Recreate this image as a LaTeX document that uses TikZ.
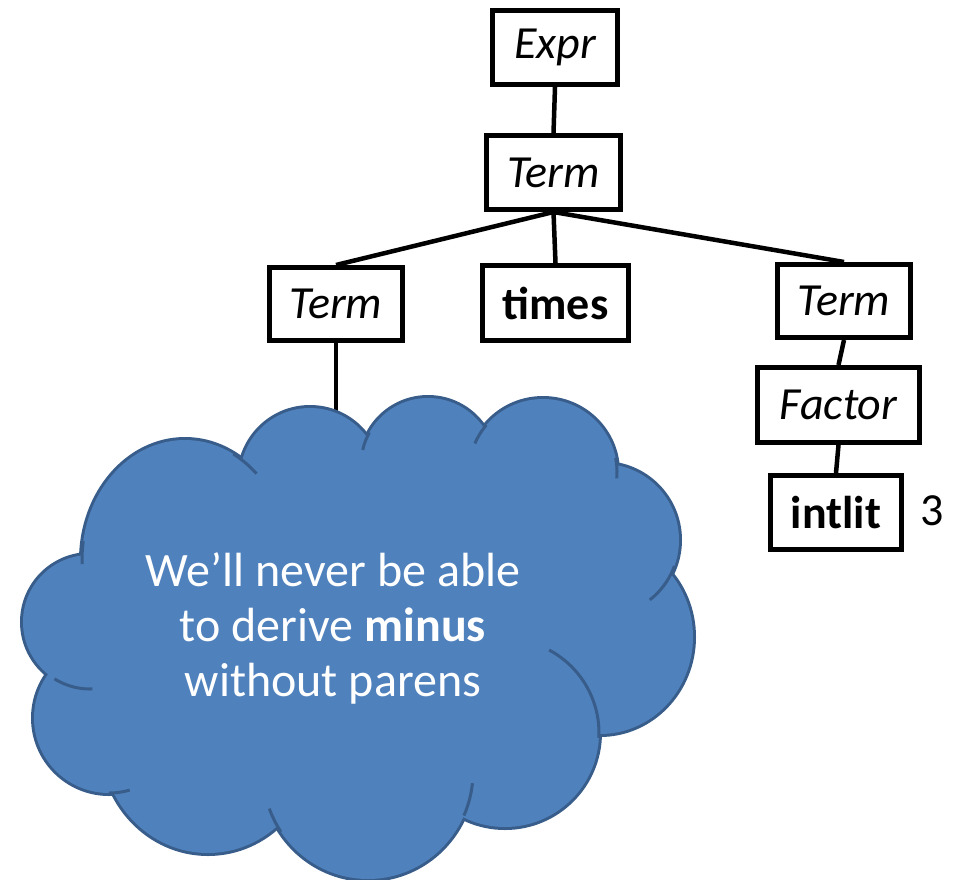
\documentclass[tikz,border=0pt]{standalone}
\usepackage{fontspec}
\setmainfont{Carlito}
\definecolor{cloudfill}{HTML}{4F81BD}
\definecolor{cloudline}{HTML}{385D8A}
\begin{document}
\begin{tikzpicture}[x=1pt,y=-1pt,
  box/.style={draw=black, line width=5pt, inner sep=0pt, font=\fontsize{46}{54}\selectfont},
  edge/.style={draw=black, line width=4.5pt},
  crease/.style={draw=cloudline, line width=3pt}]
\useasboundingbox (0,0) rectangle (953,879);

% parse tree
\node[box, minimum width=125pt, minimum height=74pt] (expr) at (555,47.5) {\itshape Expr};
\node[box, minimum width=134pt, minimum height=74pt] (term) at (553.5,172.5) {\itshape Term};
\node[box, minimum width=133pt, minimum height=73pt] (lterm) at (336,304) {\itshape Term};
\node[box, minimum width=146pt, minimum height=75pt] (times) at (555.5,303) {\bfseries times};
\node[box, minimum width=133pt, minimum height=73pt] (rterm) at (844,301) {\itshape Term};
\node[box, minimum width=162pt, minimum height=75pt] (factor) at (838.5,405) {\itshape Factor};
\node[box, minimum width=131pt, minimum height=74pt] (intlit) at (836,512.5) {\bfseries intlit};
\node[font=\fontsize{46}{54}\selectfont, inner sep=0pt] (val) at (932,511) {3};

\draw[edge] (expr.south) -- (term.north);
\draw[edge] (term.south) -- (lterm.north);
\draw[edge] (term.south) -- (times.north);
\draw[edge] (term.south) -- (rterm.north);
\draw[edge] (rterm.south) -- (factor.north);
\draw[edge] (factor.south) -- (intlit.north);

\coordinate (cloudtop) at (335,440);
\draw[edge] (lterm.south) -- (lterm.south |- cloudtop);

% cloud: lobes (centre x, centre y, x radius, y radius)
\def\lobes{185/560/103/120, 310/478/70/70, 428/465/67/67, 543/472/74/73,
  603/540/76/76, 600/637/93/97, 505/733/94/94, 368/772/105/107,
  208/742/106/111, 109/718/75/75, 90/622/67/67}
\foreach \cx/\cy/\rx/\ry in \lobes
  \draw[cloudline, line width=6pt] (\cx,\cy) ellipse [x radius=\rx pt, y radius=\ry pt];
\foreach \cx/\cy/\rx/\ry in \lobes
  \fill[cloudfill] (\cx,\cy) ellipse [x radius=\rx pt, y radius=\ry pt];
\fill[cloudfill] (370,620) ellipse [x radius=220pt, y radius=160pt];

% creases where the lobes overlap
\draw[crease] plot[domain=-62:-46, samples=12, variable=\t] ({185+103*cos(\t)},{560+120*sin(\t)});
\draw[crease] plot[domain=178:189, samples=8, variable=\t] ({185+103*cos(\t)},{560+120*sin(\t)});
\draw[crease] plot[domain=193:209, samples=10, variable=\t] ({428+67*cos(\t)},{465+67*sin(\t)});
\draw[crease] plot[domain=203:220, samples=10, variable=\t] ({543+74*cos(\t)},{472+73*sin(\t)});
\draw[crease] plot[domain=349:365, samples=10, variable=\t] ({543+74*cos(\t)},{472+73*sin(\t)});
\draw[crease] plot[domain=20:52, samples=14, variable=\t] ({603+76*cos(\t)},{540+76*sin(\t)});
\draw[crease] plot[domain=-62:3, samples=24, variable=\t] ({505+94*cos(\t)},{733+94*sin(\t)});
\draw[crease] plot[domain=6:24, samples=10, variable=\t] ({368+105*cos(\t)},{772+107*sin(\t)});
\draw[crease] plot[domain=146:160, samples=10, variable=\t] ({368+105*cos(\t)},{772+107*sin(\t)});
\draw[crease] plot[domain=74:90, samples=10, variable=\t] ({109+75*cos(\t)},{718+75*sin(\t)});
\draw[crease] plot[domain=88:122, samples=14, variable=\t] ({90+67*cos(\t)},{622+67*sin(\t)});

\node[text=white, align=center, inner sep=0pt, font=\fontsize{48}{55}\selectfont] (msg) at (333,628)
  {We’ll never be able\\to derive \textbf{minus}\\without parens};
\end{tikzpicture}
\end{document}
